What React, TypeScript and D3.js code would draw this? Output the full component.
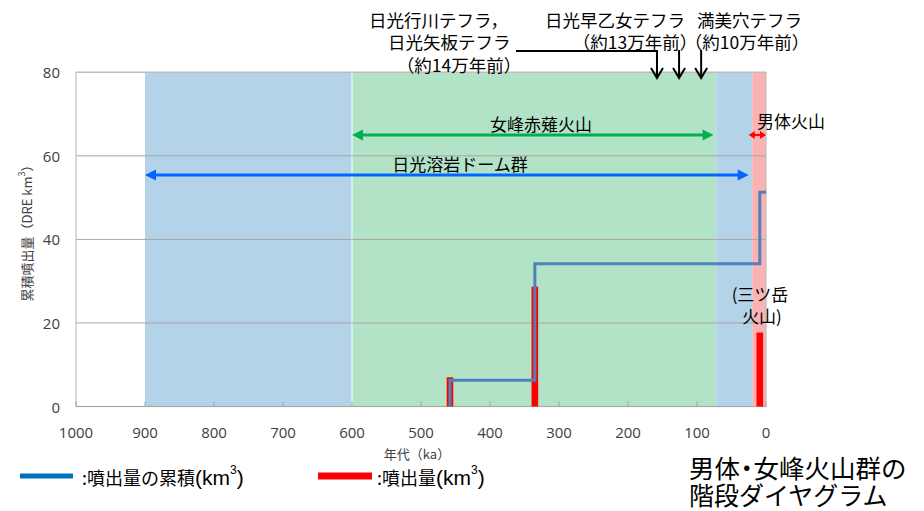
import React from "react";
import * as d3 from "d3";

// ---- data ----
const xTicks = [1000, 900, 800, 700, 600, 500, 400, 300, 200, 100, 0];
const yTicks = [0, 20, 40, 60, 80];
// background period bands (ka)
const bandStart = [900, 600, 72, 20];
const bandEnd = [600, 72, 20, 0];
// eruptions
const eruptionAge = [458, 335, 9];
const eruptionVolume = [7.0, 28.7, 17.7];
const cumulativeVolume = [6.3, 34.2, 51.3];
// range arrows (ka) and their level (km3)
const rangeNames = ["女峰赤薙火山", "日光溶岩ドーム群", "男体火山"];
const rangeFrom = [600, 900, 25];
const rangeTo = [76, 25, 0];
const rangeLevel = [65, 55.4, 65];
// tephra marker ages (ka)
const tephraAge = [158, 126, 94];

const W = 924;
const H = 511;
const JP = "'Noto Sans CJK JP', 'Noto Sans', sans-serif";
const NUM = "'Open Sans', 'DejaVu Sans', sans-serif";
const LAT = "'Liberation Sans', Arial, sans-serif";

const bandColors = ["#B4D2E8", "#B3E3C7", "#B4D2E8", "#F9B3B3"];
const rangeColors = ["#00B050", "#0066FF", "#FF0000"];

export default function App() {
  const x = d3.scaleLinear().domain([1000, 0]).range([76, 766]);
  const y = d3.scaleLinear().domain([0, 80]).range([406.5, 72.3]);

  // step line for cumulative volume
  const pts: [number, number][] = [[eruptionAge[0], 0]];
  cumulativeVolume.forEach((c, i) => {
    pts.push([eruptionAge[i], c]);
    const next = i + 1 < eruptionAge.length ? eruptionAge[i + 1] : 0;
    pts.push([next, c]);
  });
  const line = d3
    .line<[number, number]>()
    .x((d) => x(d[0]))
    .y((d) => y(d[1]));

  const arrowHead = (tipX: number, tipY: number, dir: number, len: number, half: number) =>
    `M${tipX},${tipY} L${tipX - dir * len},${tipY - half} L${tipX - dir * len},${tipY + half} Z`;

  const downV = (tx: number, ty: number) =>
    `M${tx - 6},${ty - 10} L${tx},${ty} L${tx + 6},${ty - 10}`;

  const plotL = x(1000);
  const plotR = x(0);
  const plotT = y(80);
  const plotB = y(0);

  return (
    <svg width={W} height={H} style={{ display: "block", position: "absolute", left: 0, top: 0 }}>
      <rect x={0} y={0} width={W} height={H} fill="#fff" />
      {/* bands */}
      {bandStart.map((s, i) => (
        <rect
          key={"b" + i}
          x={x(s)}
          y={plotT}
          width={x(bandEnd[i]) - x(s)}
          height={plotB - plotT}
          fill={bandColors[i]}
        />
      ))}
      <line x1={x(600)} x2={x(600)} y1={plotT} y2={plotB} stroke="#E6F5EC" strokeWidth={1.5} />
      {/* gridlines */}
      {yTicks.slice(1).map((t) => (
        <line key={"g" + t} x1={plotL} x2={plotR} y1={y(t)} y2={y(t)} stroke="#A6A6A6" strokeWidth={1} />
      ))}
      {/* frame */}
      <rect x={plotL} y={plotT} width={plotR - plotL} height={plotB - plotT} fill="none" stroke="#BFBFBF" strokeWidth={1.2} />
      <line x1={plotL} x2={plotR} y1={plotB} y2={plotB} stroke="#A6A6A6" strokeWidth={1.2} />
      {xTicks.map((t) => (
        <line key={"xt" + t} x1={x(t)} x2={x(t)} y1={plotB} y2={plotB - 5} stroke="#A6A6A6" strokeWidth={1} />
      ))}
      {/* bars */}
      {eruptionAge.map((a, i) => (
        <rect
          key={"bar" + i}
          x={x(a) - 3.3}
          y={y(eruptionVolume[i])}
          width={6.6}
          height={plotB - y(eruptionVolume[i])}
          fill="#FF0000"
        />
      ))}
      {/* cumulative line */}
      <path d={line(pts) || ""} fill="none" stroke="#4F81BD" strokeWidth={3} />

      {/* range arrows */}
      {rangeNames.map((n, i) => {
        const x1 = x(rangeFrom[i]);
        const x2 = x(rangeTo[i]);
        const yy = y(rangeLevel[i]);
        const small = i === 2;
        const len = small ? 6 : 11;
        const half = small ? 4 : 5.5;
        return (
          <g key={"r" + i}>
            <line x1={x1 + len - 1} x2={x2 - len + 1} y1={yy} y2={yy} stroke={rangeColors[i]} strokeWidth={small ? 2 : 3} />
            <path d={arrowHead(x1, yy, -1, len, half)} fill={rangeColors[i]} />
            <path d={arrowHead(x2, yy, 1, len, half)} fill={rangeColors[i]} />
          </g>
        );
      })}
      <text x={541} y={123} fontFamily={JP} fontSize={17} textAnchor="middle" dominantBaseline="central" fill="#000">
        {rangeNames[0]}
      </text>
      <text x={460} y={163} fontFamily={JP} fontSize={17} textAnchor="middle" dominantBaseline="central" fill="#000">
        {rangeNames[1]}
      </text>
      <text x={791} y={120} fontFamily={JP} fontSize={17} textAnchor="middle" dominantBaseline="central" fill="#000">
        {rangeNames[2]}
      </text>
      <text x={760} y={293} fontFamily={JP} fontSize={17} textAnchor="middle" dominantBaseline="central" fill="#000">
        (三ツ岳
      </text>
      <text x={762} y={315} fontFamily={JP} fontSize={17} textAnchor="middle" dominantBaseline="central" fill="#000">
        火山)
      </text>

      {/* tephra annotations */}
      <g fontFamily={JP} fontSize={17.5} fill="#000" dominantBaseline="central">
        <text x={369} y={19}>日光行川テフラ，</text>
        <text x={388} y={41}>日光矢板テフラ</text>
        <text x={459} y={64} textAnchor="middle">（約14万年前）</text>
        <text x={545} y={19}>日光早乙女テフラ</text>
        <text x={635} y={41} textAnchor="middle">（約13万年前）</text>
        <text x={697} y={19}>満美穴テフラ</text>
        <text x={747} y={41} textAnchor="middle">（約10万年前）</text>
      </g>
      <g fill="none" stroke="#000" strokeWidth={2}>
        <path d={`M516,51 L${x(tephraAge[0])},51 L${x(tephraAge[0])},78`} />
        <path d={downV(x(tephraAge[0]), 78)} />
        {tephraAge.slice(1).map((a, i) => (
          <g key={"te" + i}>
            <line x1={x(a)} x2={x(a)} y1={50} y2={78} />
            <path d={downV(x(a), 78)} />
          </g>
        ))}
      </g>

      {/* y tick labels */}
      {yTicks.map((t) => (
        <text key={"yl" + t} x={60} y={y(t)} fontFamily={NUM} fontSize={15} fill="#404040" textAnchor="end" dominantBaseline="central">
          {t}
        </text>
      ))}
      {/* x tick labels */}
      {xTicks.map((t) => (
        <text key={"xl" + t} x={x(t)} y={432} fontFamily={NUM} fontSize={15} fill="#404040" textAnchor="middle" dominantBaseline="central">
          {t}
        </text>
      ))}
      <text x={417} y={453} fontFamily={JP} fontSize={13} fill="#404040" textAnchor="middle" dominantBaseline="central">
        年代（ka）
      </text>
      <text
        transform={`translate(26,230) rotate(-90)`}
        fontFamily={JP}
        fontSize={13}
        fill="#404040"
        textAnchor="middle"
        dominantBaseline="central"
      >
        累積噴出量（DRE km<tspan dy={-5} fontSize={9}>3</tspan>
        <tspan dy={5}>）</tspan>
      </text>

      {/* legend */}
      <line x1={20} x2={73} y1={476} y2={476} stroke="#0070C0" strokeWidth={5} />
      <text x={82} y={477} fontFamily={JP} fontSize={18} fill="#000" dominantBaseline="central">
        :噴出量の累積
        <tspan fontFamily={LAT} fontSize={21}>(km</tspan>
        <tspan fontFamily={LAT} fontSize={12} dy={-7}>3</tspan>
        <tspan fontFamily={LAT} fontSize={21} dy={7}>)</tspan>
      </text>
      <line x1={318} x2={372} y1={476} y2={476} stroke="#FF0000" strokeWidth={7} />
      <text x={377} y={477} fontFamily={JP} fontSize={18} fill="#000" dominantBaseline="central">
        :噴出量
        <tspan fontFamily={LAT} fontSize={21}>(km</tspan>
        <tspan fontFamily={LAT} fontSize={12} dy={-7}>3</tspan>
        <tspan fontFamily={LAT} fontSize={21} dy={7}>)</tspan>
      </text>

      {/* title */}
      <text x={689} y={466} fontFamily={JP} fontSize={25.5} fill="#000" dominantBaseline="central">
        男体<tspan dx={-6}>・</tspan>
        <tspan dx={-6}>女峰火山群の</tspan>
      </text>
      <text x={689} y={493.5} fontFamily={JP} fontSize={25} fill="#000" dominantBaseline="central">
        階段ダイヤグラム
      </text>
    </svg>
  );
}
